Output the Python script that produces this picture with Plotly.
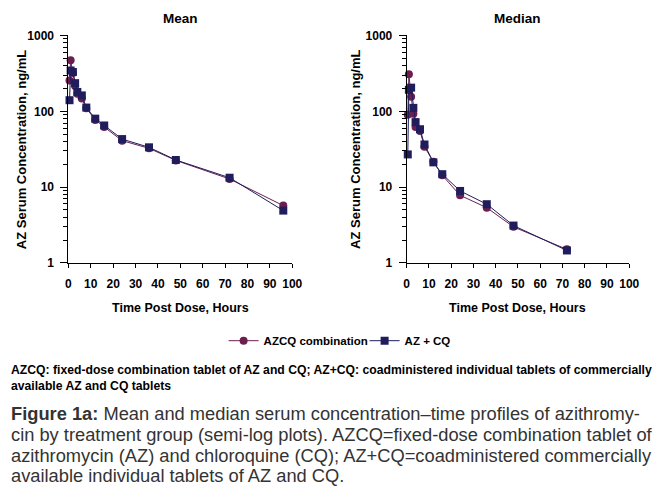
import plotly.graph_objects as go

# ---- data ----
mean_time = [0.5, 1, 2, 3, 4, 6, 8, 12, 16, 24, 36, 48, 72, 96]
mean_azcq = [255, 470, 320, 215, 170, 148, 110, 77, 62, 41, 32.5, 22.5, 12.8, 5.7]
mean_azcq_sep = [140, 345, 330, 235, 180, 162, 112, 80, 65, 43, 33.5, 22.8, 13.3, 4.9]

median_time = [0.5, 1, 2, 3, 4, 6, 8, 12, 16, 24, 36, 48, 72]
median_azcq = [90, 308, 155, 93, 62, 55, 34, 21.6, 14.3, 7.8, 5.35, 2.99, 1.51]
median_azcq_sep = [27, 192, 205, 111, 72, 58, 36.5, 21.2, 14.8, 8.9, 5.95, 3.11, 1.46]

series_names = ["AZCQ combination", "AZ + CQ"]
series_colors = ["#6b1f4f", "#1f1d5c"]
series_symbols = ["circle", "square"]

panel_titles = ["Mean", "Median"]
x_title = "Time Post Dose, Hours"
y_title = "AZ Serum Concentration, ng/mL"
x_ticks = list(range(0, 101, 10))
y_ticks = [1, 10, 100, 1000]
y_ticktext = ["1", "10", "100", "1000"]
y_minor = [m * 10 ** e for e in range(0, 3) for m in range(2, 10)]

footnote = ("AZCQ: fixed-dose combination tablet of AZ and CQ; AZ+CQ: coadministered individual tablets of commercially"
            "<br>available AZ and CQ tablets")
caption_lines = [
    "<b>Figure 1a:</b> Mean and median serum concentration\u2013time profiles of azithromy-",
    "cin by treatment group (semi-log plots). AZCQ=fixed-dose combination tablet of",
    "azithromycin (AZ) and chloroquine (CQ); AZ+CQ=coadministered commercially",
    "available individual tablets of AZ and CQ.",
]

W, H = 666, 500
FONT = "Liberation Sans, Arial, sans-serif"

fig = go.Figure()

panels = [
    ("x", "y", mean_time, [mean_azcq, mean_azcq_sep]),
    ("x2", "y2", median_time, [median_azcq, median_azcq_sep]),
]
for pi, (xa, ya, t, ys) in enumerate(panels):
    for si, vals in enumerate(ys):
        fig.add_trace(go.Scatter(
            x=t, y=vals, xaxis=xa, yaxis=ya,
            mode="lines+markers",
            name=series_names[si],
            legendgroup=series_names[si],
            showlegend=(pi == 0),
            line=dict(color=series_colors[si], width=1),
            marker=dict(symbol=series_symbols[si], size=8, color=series_colors[si]),
            cliponaxis=False,
        ))

# plot areas in pixels
left_px = [(66.7, 295.0), (411.7, 638.7)]
top_px, bot_px = 29.3, 263.3
ydom = [1 - bot_px / H, 1 - top_px / H]

def xaxis_cfg(dom):
    return dict(
        domain=[dom[0] / W, dom[1] / W], range=[0, 100],
        tickvals=x_ticks, ticks="outside", ticklen=4, tickcolor="black",
        showline=True, linecolor="black", linewidth=1,
        showgrid=False, zeroline=False,
        tickfont=dict(family=FONT, size=12, color="black", weight="bold"),
        ticklabelstandoff=6,
    )

def yaxis_cfg(anchor):
    return dict(
        type="log", domain=ydom, range=[0, 3], anchor=anchor,
        tickvals=y_ticks, ticktext=y_ticktext, ticks="outside", ticklen=7,
        tickcolor="black",
        minor=dict(tickvals=y_minor, ticks="outside", ticklen=4, tickcolor="black", showgrid=False),
        showline=True, linecolor="black", linewidth=1,
        showgrid=False, zeroline=False,
        tickfont=dict(family=FONT, size=12, color="black", weight="bold"),
        ticklabelstandoff=4,
    )

fig.update_layout(
    xaxis=dict(anchor="y", **xaxis_cfg(left_px[0])),
    yaxis=yaxis_cfg("x"),
    xaxis2=dict(anchor="y2", **xaxis_cfg(left_px[1])),
    yaxis2=yaxis_cfg("x2"),
)

annotations = []
for pi, (l, r) in enumerate(left_px):
    cx = (l + r) / 2
    annotations.append(dict(text=f"<b>{panel_titles[pi]}</b>", x=cx / W, y=1 - 12.3 / H,
                            xref="paper", yref="paper", showarrow=False,
                            xanchor="center", yanchor="middle",
                            font=dict(family=FONT, size=13.5, color="black")))
    annotations.append(dict(text=f"<b>{x_title}</b>", x=cx / W, y=1 - 310 / H,
                            xref="paper", yref="paper", showarrow=False,
                            xanchor="center", yanchor="middle",
                            font=dict(family=FONT, size=12.5, color="black")))
    ytx = [18.3, 359.7][pi]
    annotations.append(dict(text=f"<b>{y_title}</b>", x=ytx / W, y=1 - (top_px + bot_px) / 2 / H,
                            xref="paper", yref="paper", showarrow=False, textangle=-90,
                            xanchor="center", yanchor="middle",
                            font=dict(family=FONT, size=13, color="black")))

annotations.append(dict(text=f"<b>{footnote}</b>", x=6.5 / W, y=1 - 364 / H,
                        xref="paper", yref="paper", showarrow=False,
                        xanchor="left", yanchor="top", align="left",
                        font=dict(family=FONT, size=12.2, color="black")))

cap_y = [418, 440, 461.5, 481.7]
for yy, line in zip(cap_y, caption_lines):
    annotations.append(dict(text=line, x=6.5 / W, y=1 - yy / H,
                            xref="paper", yref="paper", showarrow=False,
                            xanchor="left", yanchor="middle", align="left",
                            font=dict(family=FONT, size=18.3, color="#333333")))

fig.update_layout(
    width=W, height=H, autosize=False,
    margin=dict(l=0, r=0, t=0, b=0),
    paper_bgcolor="white", plot_bgcolor="white",
    annotations=annotations,
    showlegend=True,
    legend=dict(orientation="h", x=225 / W, y=1 - 343.3 / H,
                xanchor="left", yanchor="middle",
                font=dict(family=FONT, size=11.5, color="black", weight="bold"),
                itemwidth=30, entrywidth=96, entrywidthmode="pixels",
                bgcolor="rgba(0,0,0,0)", tracegroupgap=0),
)

page_css = (
    "var de=document.documentElement, b=document.body;"
    "de.style.margin='0';de.style.padding='0';de.style.overflow='hidden';de.style.height='500px';"
    "b.style.margin='0';b.style.padding='0';b.style.overflow='hidden';b.style.height='500px';"
    "b.style.lineHeight='0';"
    "for (var c of b.children){c.style.margin='0';c.style.lineHeight='0';}"
)

fig.write_html(
    "out.html",
    config={"displayModeBar": False, "responsive": False},
    post_script=page_css,
)
